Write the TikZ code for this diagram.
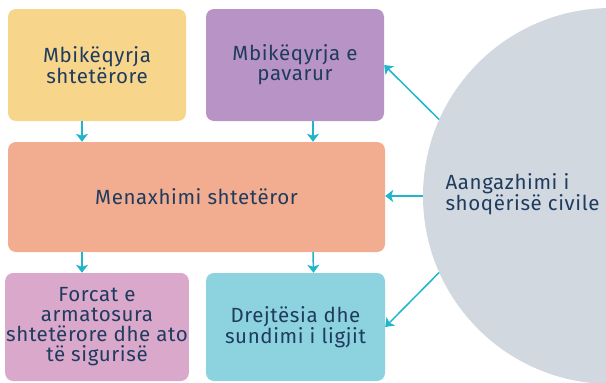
\documentclass[tikz,border=0pt]{standalone}
\usepackage{fontspec}
\setmainfont{Fira Sans}[LetterSpace=3]
\usetikzlibrary{arrows.meta, positioning}

\definecolor{ink}{HTML}{1F3B5E}
\definecolor{arrowcyan}{HTML}{1FB6CC}
\definecolor{boxyellow}{HTML}{F7D58B}
\definecolor{boxpurple}{HTML}{B893C6}
\definecolor{boxsalmon}{HTML}{F2AC90}
\definecolor{boxpink}{HTML}{DAA8CB}
\definecolor{boxcyan}{HTML}{8CD3DF}
\definecolor{civgray}{HTML}{D1D8E0}

\begin{document}
\begin{tikzpicture}[x=1pt, y=-1pt]
\tikzset{
    block/.style={rectangle, rounded corners=8pt, minimum width=178pt, minimum height=112pt,
        align=center, text=ink, inner sep=1pt, font=\fontsize{20.5}{20}\selectfont},
    link/.style={-{Stealth[length=8pt, width=12pt, inset=2pt]}, arrowcyan, line width=1.5pt}
}
\useasboundingbox (0,0) rectangle (606,383);

% --- circle on the right ---
\node (civ) at (611,196) [circle, fill=civgray, minimum size=376pt] {};
\node (civtext) at (442,194) [anchor=west, align=left, text=ink, font=\fontsize{20.5}{20}\selectfont]
    {Aangazhimi i\\shoqërisë civile};

% --- boxes ---
\node (stat) at (97,65) [block, fill=boxyellow] {Mbikëqyrja\\shtetërore};
\node (indep) at (295,65) [block, fill=boxpurple] {Mbikëqyrja e\\pavarur};
\node (gov) at (196.5,197) [block, fill=boxsalmon, minimum width=377pt, minimum height=110pt] {Menaxhimi shtetëror};
\node (army) at (97,327) [block, fill=boxpink, minimum height=108pt] {Forcat e\\armatosura\\shtetërore dhe ato\\të sigurisë};
\node (law) at (295.5,327) [block, fill=boxcyan, minimum width=179pt, minimum height=108pt] {Drejtësia dhe\\sundimi i ligjit};

% --- arrows ---
\draw[link] ([xshift=-15pt]stat.south) -- ([xshift=-15pt]stat.south |- gov.north);
\draw[link] ([xshift=18pt]indep.south) -- ([xshift=18pt]indep.south |- gov.north);
\draw[link] ([xshift=-15pt]stat.south |- gov.south) -- ([xshift=-15pt]army.north);
\draw[link] ([xshift=18pt]indep.south |- gov.south) -- ([xshift=18pt]law.north |- army.north);

\draw[link] (civ.156) -- (indep.east);
\draw[link] (civ.west) -- (civ.west -| gov.east);
\draw[link] (civ.204) -- (law.east);

\end{tikzpicture}
\end{document}
